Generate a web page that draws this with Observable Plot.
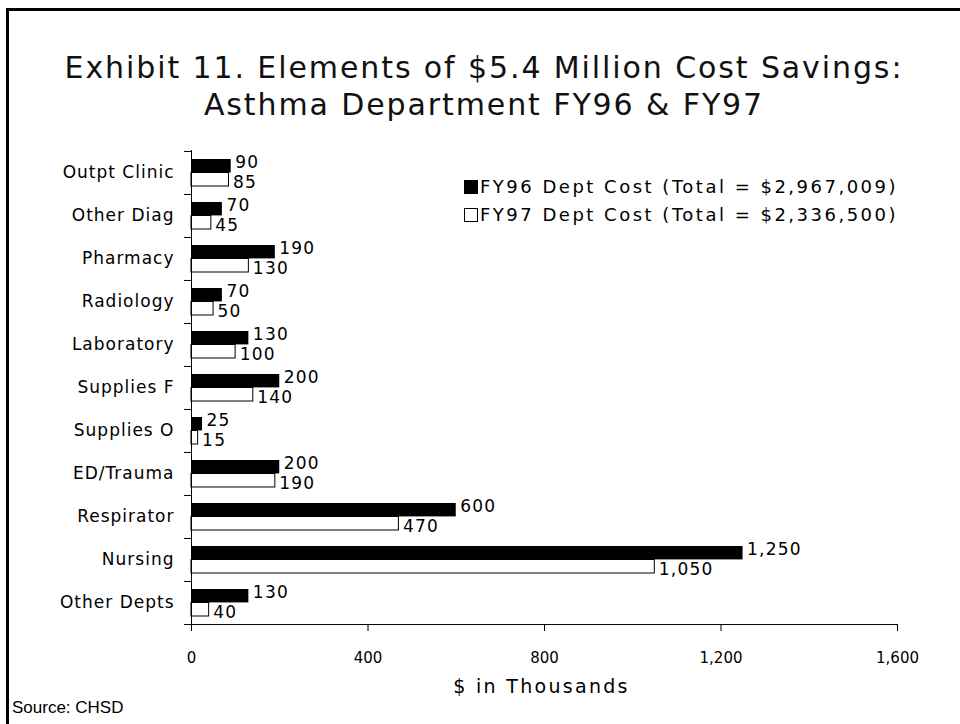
<!DOCTYPE html>
<html><head><meta charset="utf-8">
<script src="https://cdn.jsdelivr.net/npm/d3@7"></script>
<script src="https://cdn.jsdelivr.net/npm/@observablehq/plot@0.6"></script>
<style>
body{margin:0;background:#fff;}
#wrap{position:relative;width:960px;height:724px;overflow:hidden;font-family:"DejaVu Sans";color:#000;}
#frame{position:absolute;left:6px;top:8px;width:1000px;height:1000px;border-left:3px solid #000;border-top:3px solid #000;}
#title{position:absolute;left:8px;width:952px;top:49px;text-align:center;font-size:30px;line-height:37px;letter-spacing:1.9px;color:#111;}
#legend{position:absolute;left:464px;top:173px;font-size:18px;line-height:28px;letter-spacing:2.5px;}
#legend .sw{display:inline-block;width:14px;height:14px;box-sizing:border-box;border:1px solid #000;margin-right:2px;vertical-align:-1px;}
#source{position:absolute;left:12px;top:698px;font-family:"Liberation Sans";font-size:17px;}
#chart{position:absolute;left:0;top:0;}
#chart svg text{letter-spacing:1px;}
#chart svg g[aria-label="x-axis tick label"] text{letter-spacing:0;}
#chart svg g[aria-label="text"] text{letter-spacing:1.2px;}
#chart svg > g:last-of-type text{letter-spacing:2.3px;}
</style></head>
<body>
<div id="wrap">
  <div id="chart"></div>
  <div id="frame"></div>
  <div id="title">Exhibit 11. Elements of $5.4 Million Cost Savings:<br>Asthma Department FY96 &amp; FY97</div>
  <div id="legend"></div>
  <div id="source">Source: CHSD</div>
</div>
<script>
const categories = ["Outpt Clinic","Other Diag","Pharmacy","Radiology","Laboratory","Supplies F","Supplies O","ED/Trauma","Respirator","Nursing","Other Depts"];
const fy96 = [90,70,190,70,130,200,25,200,600,1250,130];
const fy97 = [85,45,130,50,100,140,15,190,470,1050,40];
const seriesNames = ["FY96 Dept Cost (Total = $2,967,009)","FY97 Dept Cost (Total = $2,336,500)"];
const seriesFill = ["#000","#fff"];
const xTicks = [0,400,800,1200,1600];
const xLabel = "$ in Thousands";

const rows96 = categories.map((c,i)=>({category:c, value:fy96[i]}));
const rows97 = categories.map((c,i)=>({category:c, value:fy97[i]}));
const fmt = d3.format(",");

const W=960,H=724,mT=150,mB=100,mL=191,mR=63;
const step=(H-mT-mB)/categories.length;

const plot = Plot.plot({
  width:W,height:H,marginTop:mT,marginBottom:mB,marginLeft:mL,marginRight:mR,
  style:{fontFamily:"DejaVu Sans",fontSize:"17px",color:"#000",background:"transparent",overflow:"visible"},
  x:{domain:[0,1600]},
  y:{domain:categories,padding:0},
  marks:[
    Plot.barX(rows96,{x:"value",y:"category",fill:seriesFill[0],insetTop:8,insetBottom:step-21.5}),
    Plot.barX(rows97,{x:"value",y:"category",fill:seriesFill[1],stroke:"#000",strokeWidth:1,insetTop:21.5,insetBottom:8}),
    Plot.text(rows96,{x:"value",y:"category",text:d=>fmt(d.value),textAnchor:"start",dx:4,dy:-10,fontSize:17}),
    Plot.text(rows97,{x:"value",y:"category",text:d=>fmt(d.value),textAnchor:"start",dx:4,dy:10,fontSize:17}),
    Plot.ruleX([0],{stroke:"#000"}),
    Plot.ruleY([categories[categories.length-1]],{dy:step/2,stroke:"#000"}),
    Plot.axisY({tickSize:0,tickPadding:17,label:null,fontSize:17}),
    Plot.axisY({tickSize:7,tickFormat:()=>"",dy:-step/2,label:null,stroke:"#000"}),
    Plot.axisY({ticks:[categories[categories.length-1]],tickSize:7,tickFormat:()=>"",dy:step/2,label:null,stroke:"#000"}),
    Plot.axisX({ticks:xTicks,tickSize:7,tickPadding:21,tickFormat:fmt,label:null,fontSize:15,stroke:"#000"}),
    Plot.text([xLabel],{frameAnchor:"bottom",dy:68,dx:-3,fontSize:19})
  ]
});
document.getElementById("chart").appendChild(plot);

const leg = d3.select("#legend");
seriesNames.forEach((n,i)=>{
  const row = leg.append("div");
  row.append("span").attr("class","sw").style("background",seriesFill[i]);
  row.append("span").text(n);
});
</script>
</body></html>
